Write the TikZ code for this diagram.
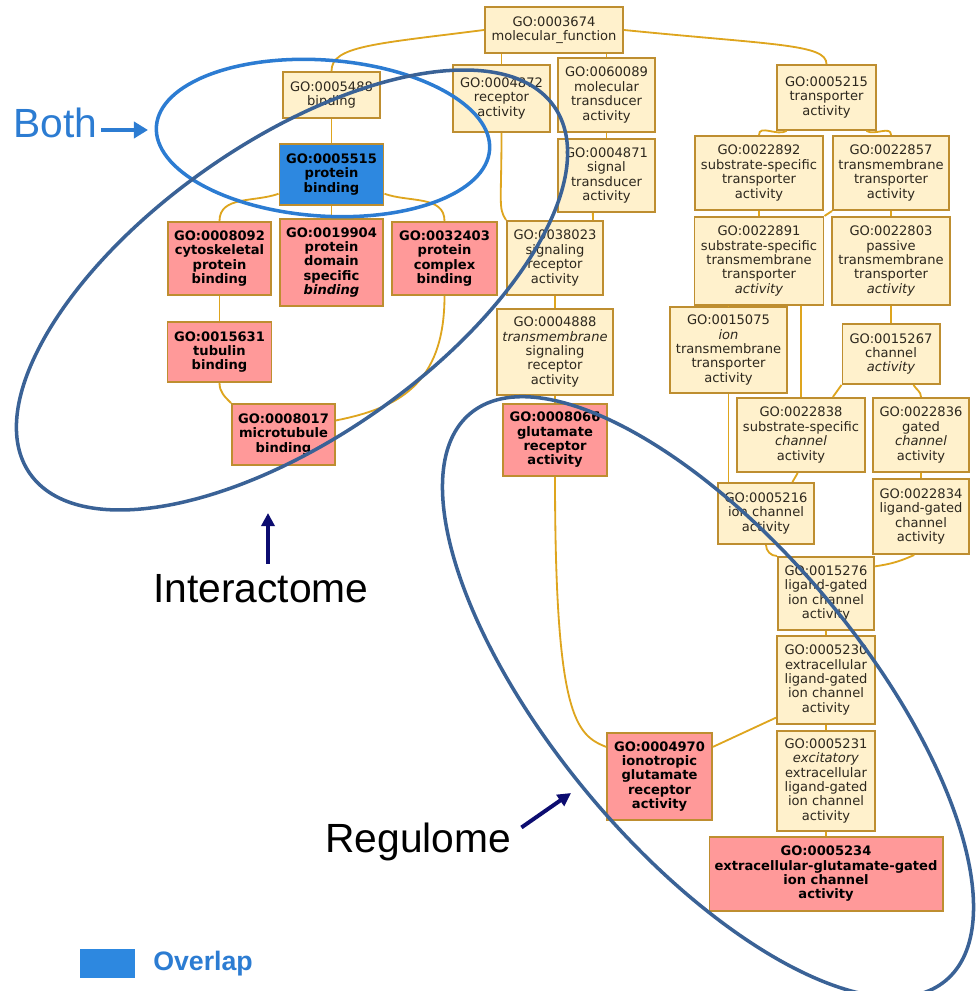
\documentclass[tikz,border=0pt]{standalone}
\usepackage{fontspec}
\setmainfont{Liberation Sans}
\newfontfamily\gofont{DejaVu Sans}
\usetikzlibrary{arrows.meta,positioning}
\definecolor{termfill}{RGB}{255,241,204}
\definecolor{termline}{RGB}{190,142,48}
\definecolor{termtext}{RGB}{45,40,30}
\definecolor{hitfill}{RGB}{255,153,153}
\definecolor{pbfill}{RGB}{45,136,224}
\definecolor{goedge}{RGB}{222,165,30}
\definecolor{bothblue}{RGB}{44,124,210}
\definecolor{ringdark}{RGB}{58,98,150}
\definecolor{arrnavy}{RGB}{12,12,112}

\begin{document}
\begin{tikzpicture}[x=0.025cm,y=0.025cm,
  sz/.style 2 args={minimum width=#1*0.025cm,minimum height=#2*0.025cm},
  go/.style={rectangle,draw=termline,line width=1.4pt,inner sep=0pt,align=center,font=\gofont\fontsize{9.3}{10.2}\selectfont},
  term/.style={go,fill=termfill,text=termtext},
  hit/.style={go,fill=hitfill,font=\gofont\bfseries\fontsize{9.3}{10.2}\selectfont},
  both/.style={hit,fill=pbfill},
  isa/.style={draw=goedge,line width=1.3pt},
  lbl/.style={inner sep=0pt,font=\fontsize{29}{34}\selectfont},
  ringlt/.style={draw=bothblue,line width=2.5pt},
  ringdk/.style={draw=ringdark,line width=2.5pt},
  bothar/.style={draw=bothblue,line width=3.4pt,-{Triangle[length=0.35cm,width=0.4cm]}},
  navyar/.style={draw=arrnavy,line width=2.8pt,-{Triangle[length=0.33cm,width=0.33cm]}}]
\useasboundingbox (0,0) rectangle (977,-991);

\node (mf) [term,sz={138}{46}] at (554,-30) {GO:0003674\\molecular\_function};
\node (bind) [term,sz={97}{46}] at (331.5,-95) {GO:0005488\\binding};
\node (rec) [term,sz={97}{67}] at (501.5,-98.5) {GO:0004872\\receptor\\activity};
\node (mtr) [term,sz={97}{74}] at (606.5,-95) {GO:0060089\\molecular\\transducer\\activity};
\node (tra) [term,sz={99}{65}] at (826.5,-97.5) {GO:0005215\\transporter\\activity};
\node (pb) [both,sz={104}{61},below=0.6cm of bind] {GO:0005515\\protein\\binding};
\node (cyt) [hit,sz={103}{73}] at (219.5,-258.5) {GO:0008092\\cytoskeletal\\protein\\binding};
\node (pdb) [hit,sz={103}{87},below=0.3cm of pb] {GO:0019904\\protein\\domain\\specific\\\textit{binding}};
\node (cpx) [hit,sz={105}{73}] at (444.5,-258.5) {GO:0032403\\protein\\complex\\binding};
\node (tub) [hit,sz={104}{60},below=0.625cm of cyt] {GO:0015631\\tubulin\\binding};
\node (mt) [hit,sz={103}{61}] at (283.5,-434.5) {GO:0008017\\microtubule\\binding};
\node (sit) [term,sz={97}{73},below=0.125cm of mtr] {GO:0004871\\signal\\transducer\\activity};
\node (sr) [term,sz={96}{74}] at (555,-258) {GO:0038023\\signaling\\receptor\\activity};
\node (tsr) [term,sz={116}{86},below=0.3cm of sr] {GO:0004888\\\textit{transmembrane}\\signaling\\receptor\\activity};
\node (glu) [hit,sz={104}{72},below=0.175cm of tsr] {GO:0008066\\glutamate\\receptor\\activity};
\node (sst) [term,sz={128}{74}] at (759,-173) {GO:0022892\\substrate-specific\\transporter\\activity};
\node (tmt) [term,sz={116}{74}] at (891,-173) {GO:0022857\\transmembrane\\transporter\\activity};
\node (sstt) [term,sz={129}{88},below=0.125cm of sst] {GO:0022891\\substrate-specific\\transmembrane\\transporter\\\textit{activity}};
\node (ptm) [term,sz={118}{88},below=0.125cm of tmt] {GO:0022803\\passive\\transmembrane\\transporter\\\textit{activity}};
\node (ion) [term,sz={117}{86}] at (728.5,-350) {GO:0015075\\\textit{ion}\\transmembrane\\transporter\\activity};
\node (cha) [term,sz={97}{60},below=0.425cm of ptm] {GO:0015267\\channel\\\textit{activity}};
\node (ssc) [term,sz={128}{74}] at (801,-435) {GO:0022838\\substrate-specific\\\textit{channel}\\activity};
\node (gc) [term,sz={96}{74}] at (921,-435) {GO:0022836\\gated\\\textit{channel}\\activity};
\node (ic) [term,sz={96}{61}] at (766,-513.5) {GO:0005216\\ion channel\\activity};
\node (lgc) [term,sz={96}{75},below=0.125cm of gc] {GO:0022834\\ligand-gated\\channel\\activity};
\node (lgic) [term,sz={96}{73}] at (826,-593.5) {GO:0015276\\ligand-gated\\ion channel\\activity};
\node (eca) [term,sz={98}{88},below=0.1cm of lgic] {GO:0005230\\extracellular\\ligand-gated\\ion channel\\activity};
\node (exc) [term,sz={98}{100},below=0.125cm of eca] {GO:0005231\\\textit{excitatory}\\extracellular\\ligand-gated\\ion channel\\activity};
\node (egg) [hit,sz={233}{74},below=0.1cm of exc] {GO:0005234\\extracellular-glutamate-gated\\ion channel\\activity};
\node (igr) [hit,sz={105}{87}] at (659.5,-776.5) {GO:0004970\\ionotropic\\glutamate\\receptor\\activity};

\draw[isa] (mf.west) .. controls +(-110,-14) and +(0,25) .. (bind.north);
\draw[isa] (rec.north |- mf.south) -- (rec.north);
\draw[isa] (mtr.north |- mf.south) -- (mtr.north);
\draw[isa] (mf.east) .. controls +(150,-15) and +(0,20) .. (tra.north);
\draw[isa] (bind) -- (pb);
\draw[isa] (pb.200) to[out=200,in=90] (cyt.north);
\draw[isa] (pb.-20) to[out=-20,in=90] (cpx.north);
\draw[isa] (pb) -- (pdb);
\draw[isa] (cyt) -- (tub);
\draw[isa] (tub.south) to[out=-90,in=135] (mt.north west);
\draw[isa] (cpx.south) .. controls +(0,-90) and +(60,12) .. (mt.15);
\draw[isa] (rec.south) .. controls +(0,-70) and +(-8,12) .. (sr.north west);
\draw[isa] (mtr) -- (sit);
\draw[isa] (sit.250) -- (sr.45);
\draw[isa] (sr) -- (tsr);
\draw[isa] (tsr) -- (glu);
\draw[isa] (glu.south) .. controls +(0,-240) and +(-30,12) .. (igr.151);
\draw[isa] (eca.217) -- (igr.29);
\draw[isa] (tra.220) to[out=-150,in=90] (sst.north);
\draw[isa] (tra.320) to[out=-30,in=90] (tmt.north);
\draw[isa] (sst) -- (sstt);
\draw[isa] (tmt.south west) -- (sstt.north east);
\draw[isa] (tmt) -- (ptm);
\draw[isa] (ptm) -- (cha);
\draw[isa] (ion.north |- sstt.south) -- (ion.north);
\draw[isa] (ssc.north |- sstt.south) -- (ssc.north);
\draw[isa] (cha.south west) -- (ssc.50);
\draw[isa] (cha.-54) to[out=-60,in=90] (gc.north);
\draw[isa] (ion.south) -- (ion.south |- ic.north);
\draw[isa] (ssc.265) -- (ic.50);
\draw[isa] (gc) -- (lgc);
\draw[isa] (ic.south) to[out=-90,in=180] (lgic.north west);
\draw[isa] (lgc.260) to[bend left=8] (lgic.29);
\draw[isa] (lgic) -- (eca);
\draw[isa] (eca) -- (exc);
\draw[isa] (exc) -- (egg);

\draw[ringlt,rotate around={-4:(323,-138)}] (323,-138) ellipse [x radius=167,y radius=78];
\draw[ringdk,rotate around={35:(292,-290)}] (292,-290) ellipse [x radius=320,y radius=148];
\draw[ringdk,rotate around={-50:(708,-697)}] (708,-697) ellipse [x radius=370,y radius=154];

\node (both) [lbl,text=bothblue,anchor=base west] at (13,-138) {Both};
\coordinate (bothtip) at (148,-130);
\draw[bothar,shorten <=0.1cm] (both.east |- bothtip) -- (bothtip);
\node (inter) [lbl,anchor=base west] at (153,-602) {Interactome};
\coordinate (intertip) at (268,-513);
\draw[navyar,shorten <=0.25cm] (inter.north -| intertip) -- (intertip);
\node (regu) [lbl,anchor=base west] at (325,-852) {Regulome};
\coordinate (regutip) at (571,-793);
\draw[navyar] ([shift={(10,14)}]regu.east) -- (regutip);
\node (key) [fill=pbfill,inner sep=0pt,sz={55}{29}] at (107.5,-963.5) {};
\node (keytxt) [inner sep=0pt,text=bothblue,font=\bfseries\fontsize{19}{22}\selectfont,anchor=base west] at (153,-970) {Overlap};
\end{tikzpicture}
\end{document}
